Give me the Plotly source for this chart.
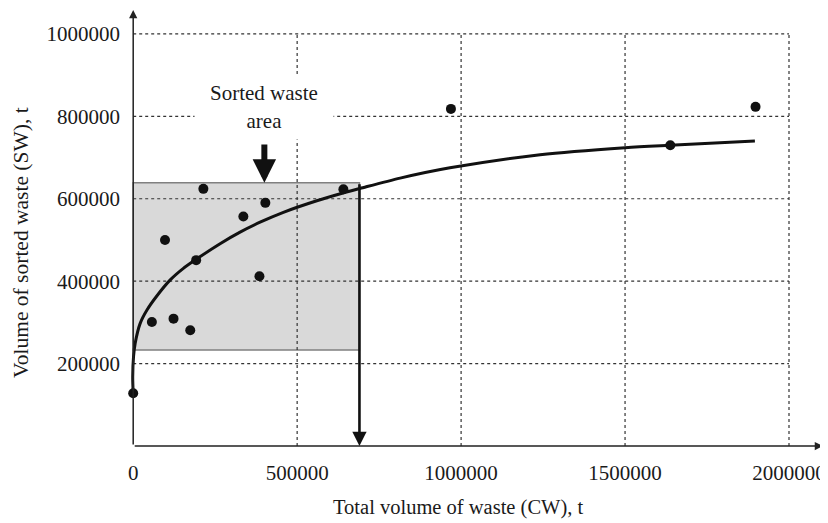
import plotly.graph_objects as go

# ---- data ----
cw_points = [0, 57000, 97000, 123000, 174000, 192000, 214000, 336000, 385000, 403000, 641000, 969000, 1638000, 1898000]
sw_points = [128000, 301000, 500000, 309000, 281000, 451000, 624000, 557000, 412000, 590000, 623000, 818000, 730000, 823000]

trend_cw = [0, -1500, 1000, 6000, 21000, 42000, 72000, 113000, 153000, 192000, 265000, 326000,
            387000, 458000, 560000, 640000, 692000, 814000, 966000, 1241000, 1500000, 1637000, 1896000]
trend_sw = [128000, 168000, 217000, 249000, 297000, 330000, 364000, 403000, 431000, 453000, 491000, 519000,
            543000, 567000, 595000, 614000, 625000, 650000, 675000, 707000, 724000, 730000, 740000]

area_cw = [0, 690000]
area_sw = [233000, 639000]
area_label = "Sorted waste<br>area"
area_arrow_cw = 400000
area_arrow_sw = [639000, 735000]
label_sw = 822000

x_ticks = [0, 500000, 1000000, 1500000, 2000000]
y_ticks = [200000, 400000, 600000, 800000, 1000000]
x_start = -25000
x_end = 2103700
y_end = 1058000

x_title = "Total volume of waste (CW), t"
y_title = "Volume of sorted waste (SW), t"
x_title_at = 990000
y_title_at = 493000

FONT = "Times New Roman, Liberation Serif, serif"
FS = 21
INK = "#1a1a1a"

fig = go.Figure()

# shaded area
fig.add_shape(type="rect", x0=area_cw[0], x1=area_cw[1], y0=area_sw[0], y1=area_sw[1],
              xref="x", yref="y", fillcolor="#d9d9d9", line=dict(color="#808080", width=1.5),
              layer="below")

# dotted grid lines limited to the tick extent
for yv in y_ticks:
    fig.add_shape(type="line", x0=x_ticks[0], x1=x_ticks[-1], y0=yv, y1=yv, xref="x", yref="y",
                  line=dict(color="#333333", width=1.2, dash="dot"), layer="below")
for xv in x_ticks[1:]:
    fig.add_shape(type="line", x0=xv, x1=xv, y0=0, y1=y_ticks[-1], xref="x", yref="y",
                  line=dict(color="#333333", width=1.2, dash="dot"), layer="below")

# trend curve
fig.add_trace(go.Scatter(x=trend_cw, y=trend_sw, mode="lines",
                         line=dict(color="#111111", width=3, shape="spline", smoothing=0.8),
                         cliponaxis=False, hoverinfo="skip", showlegend=False))
# data points
fig.add_trace(go.Scatter(x=cw_points, y=sw_points, mode="markers", marker=dict(color="#111111", size=10),
                         cliponaxis=False, showlegend=False))

# axis arrows
fig.add_annotation(x=0, y=y_end, ax=0, ay=0, xref="x", yref="y", axref="x", ayref="y", text="",
                   showarrow=True, arrowhead=2, arrowsize=1.1, arrowwidth=1.5, arrowcolor="#222222")
fig.add_annotation(x=x_end, y=0, ax=0, ay=0, xref="x", yref="y", axref="x", ayref="y", text="",
                   showarrow=True, arrowhead=2, arrowsize=1.1, arrowwidth=1.5, arrowcolor="#222222")

# vertical arrow from the area boundary down to the x axis
fig.add_annotation(x=area_cw[1], y=0, ax=area_cw[1], ay=area_sw[1], xref="x", yref="y", axref="x", ayref="y",
                   text="", showarrow=True, arrowhead=2, arrowsize=1.1, arrowwidth=2.6, arrowcolor="#111111")

# label arrow
fig.add_annotation(x=area_arrow_cw, y=area_arrow_sw[0], ax=area_arrow_cw, ay=area_arrow_sw[1],
                   xref="x", yref="y", axref="x", ayref="y", text="", showarrow=True,
                   arrowhead=2, arrowsize=0.78, arrowwidth=6, arrowcolor="#111111")

# label
fig.add_annotation(x=area_arrow_cw, y=label_sw, xref="x", yref="y", text=area_label, showarrow=False,
                   font=dict(family=FONT, size=FS, color=INK), bgcolor="white", width=126, height=52,
                   borderpad=6, align="center")

# axis titles
fig.add_annotation(x=x_title_at, y=0, xref="x", yref="y", text=x_title, showarrow=False,
                   yanchor="middle", yshift=-61, font=dict(family=FONT, size=20.5, color=INK))
fig.add_annotation(x=0, y=y_title_at, xref="x", yref="y", text=y_title, showarrow=False, textangle=-90,
                   xanchor="center", xshift=-112, font=dict(family=FONT, size=21.5, color=INK))

# the page body has an 8px margin, so the figure is offset to compensate
fig.update_layout(
    width=828, height=515,
    margin=dict(l=116.8, r=13, t=2, b=77),
    paper_bgcolor="white", plot_bgcolor="white",
    font=dict(family=FONT, size=FS, color=INK),
    showlegend=False,
    xaxis=dict(range=[x_start, x_end], tickvals=x_ticks, tickformat="d", showgrid=False, zeroline=False,
               showline=False, ticks="", ticklabelstandoff=12, automargin=False),
    yaxis=dict(range=[0, y_end], tickvals=y_ticks, tickformat="d", showgrid=False, zeroline=False,
               showline=False, ticks="", ticklabelstandoff=4, automargin=False),
)

fig.write_html("out.html")
